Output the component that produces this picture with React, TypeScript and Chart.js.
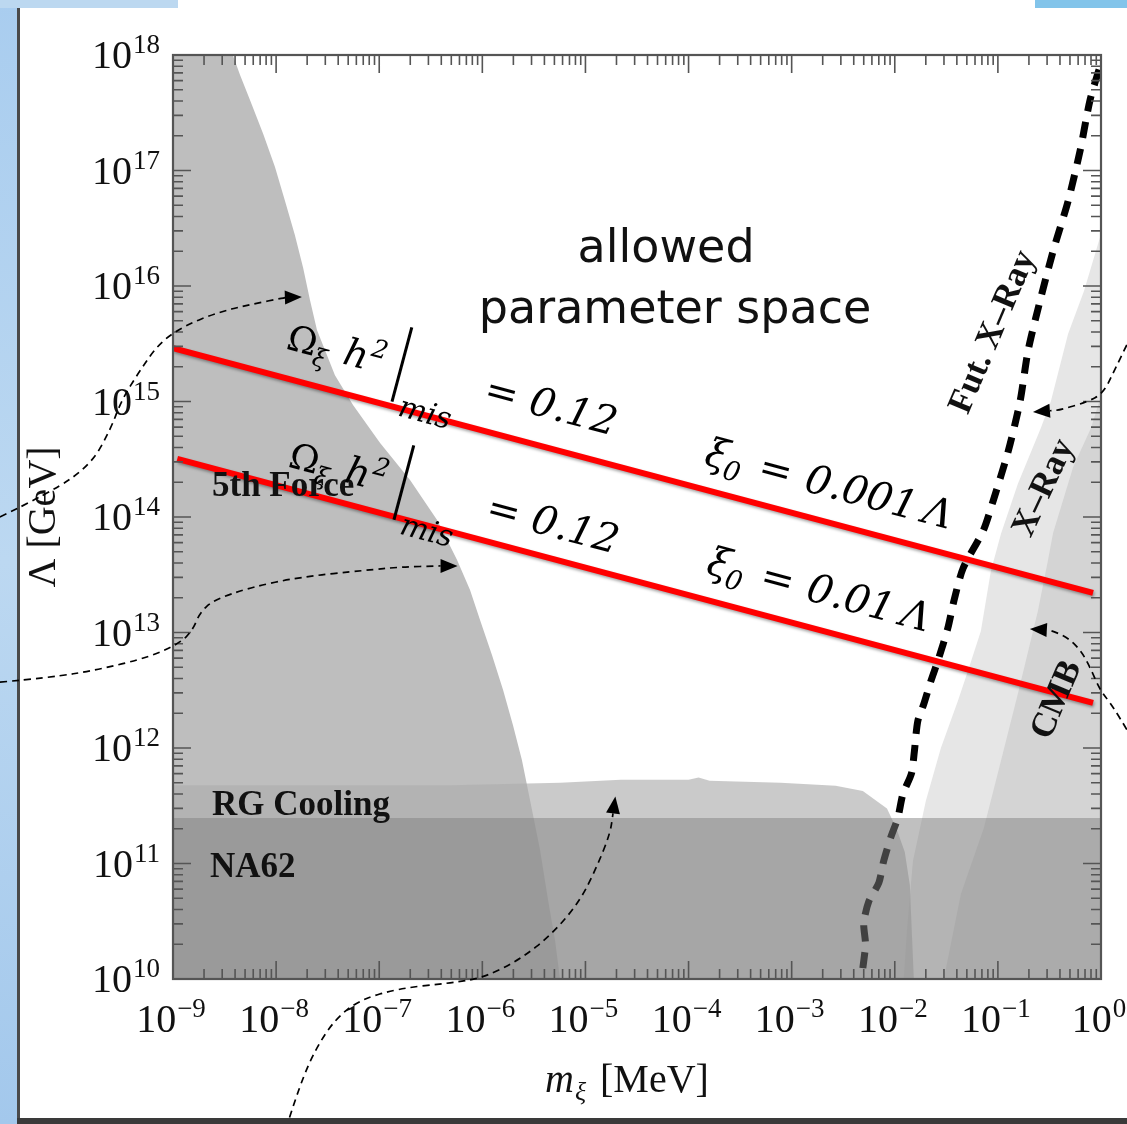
import React, { useEffect, useRef } from "react";
import { Chart, registerables } from "chart.js";

Chart.register(...registerables);

// ---------------- axes ----------------
const massRange: [number, number] = [1e-9, 1]; // m_xi [MeV]
const lambdaRange: [number, number] = [1e10, 1e18]; // Lambda [GeV]
const massTickExponents = [-9, -8, -7, -6, -5, -4, -3, -2, -1, 0];
const lambdaTickExponents = [10, 11, 12, 13, 14, 15, 16, 17, 18];
const minorSteps = [2, 3, 4, 5, 6, 7, 8, 9];

// ---------------- excluded regions: boundary points [m_xi (MeV), Lambda (GeV)] ----------------
const fifthForceEdge: [number, number][] = [
  [3.8e-9, 1e18], [4.47e-9, 6.7e17], [5.58e-9, 4.07e17], [7.5e-9, 2.07e17], [9.75e-9, 1.07e17],
  [1.22e-8, 5.45e16], [1.52e-8, 2.77e16], [1.83e-8, 1.43e16], [2.13e-8, 7.57e15], [2.49e-8, 4.16e15],
  [3.72e-8, 1.69e15], [5.57e-8, 9.33e14], [1.02e-7, 4.38e14], [1.99e-7, 2.09e14], [3.64e-7, 9.42e13],
  [5.69e-7, 4.25e13], [7.6e-7, 2.33e13], [9.5e-7, 1.28e13], [1.24e-6, 6.38e12], [1.59e-6, 3.18e12],
  [1.98e-6, 1.58e12], [2.42e-6, 7.87e11], [2.9e-6, 3.55e11], [3.63e-6, 1.31e11], [4.34e-6, 4.83e10],
  [5.07e-6, 2.18e10], [5.67e-6, 1e10],
];
const rgCoolingEdge: [number, number][] = [
  [1e-9, 4.75e11], [4.9e-7, 4.75e11], [5.7e-6, 5.0e11], [2.2e-5, 5.3e11], [1.0e-4, 5.3e11],
  [1.25e-4, 5.55e11], [1.6e-4, 5.2e11], [7.8e-4, 5.0e11], [2.67e-3, 4.7e11], [4.9e-3, 4.25e11],
  [8.4e-3, 3.0e11], [1.04e-2, 2.0e11], [1.25e-2, 1.26e11], [1.4e-2, 6.5e10], [1.53e-2, 1e10],
];
const na62Limit = 2.48e11;
const xRayEdge: [number, number][] = [
  [1, 2.82e16], [0.684, 9.06e15], [0.479, 3.84e15], [0.327, 1.01e15], [0.261, 5.9e14],
  [0.156, 1.93e14], [0.107, 7.13e13], [0.0855, 3.4e13], [0.0684, 1.03e13], [0.0512, 4.65e12],
  [0.0409, 2.55e12], [0.028, 1e12], [0.02, 3.48e11], [0.015, 1.05e11], [0.0131, 2.6e10], [0.0122, 1e10],
];
const cmbEdge: [number, number][] = [
  [1, 1.12e15], [0.8, 5.9e14], [0.537, 2.71e14], [0.343, 7.26e13], [0.305, 4.16e13], [0.244, 1.53e13],
  [0.156, 2.94e12], [0.107, 7.7e11], [0.0731, 2.03e11], [0.0438, 5.45e10], [0.0299, 1e10],
];
const futureXRay: [number, number][] = [
  [4.9e-3, 1.24e10], [5.2e-3, 2.0e10], [5.0e-3, 3.05e10], [5.6e-3, 4.7e10], [7.0e-3, 6.8e10],
  [7.8e-3, 1.05e11], [9.1e-3, 1.66e11], [1.07e-2, 2.48e11], [1.2e-2, 4.0e11], [1.45e-2, 6.0e11],
  [1.55e-2, 9.4e11], [1.67e-2, 1.7e12], [1.91e-2, 2.4e12], [2.24e-2, 3.8e12], [2.67e-2, 6.0e12],
  [3.27e-2, 1.09e13], [3.74e-2, 1.87e13], [4.6e-2, 3.6e13], [7.2e-2, 7.6e13], [9.0e-2, 1.38e14],
  [0.126, 3.72e14], [0.164, 1.0e15], [0.196, 2.74e15], [0.256, 7.4e15], [0.343, 2.0e16],
  [0.48, 5.45e16], [0.627, 1.48e17], [0.783, 4.07e17], [1.0, 8.5e17],
];
// misalignment relic-abundance lines
const relicXi0001: [number, number][] = [[1e-9, 2.9e15], [0.837, 2.2e13]];
const relicXi001: [number, number][] = [[1.1e-9, 3.18e14], [0.837, 2.46e12]];

// annotation arrows, given in log10 data coordinates [log10 m, log10 Lambda]
const arrowFifthForce: [number, number][] = [
  [-10.68, 14.0], [-10.19, 14.21], [-9.8, 14.45], [-9.61, 14.75], [-9.5, 15.01], [-9.32, 15.27],
  [-9.13, 15.51], [-8.88, 15.66], [-8.57, 15.77], [-8.25, 15.84], [-7.91, 15.9], [-7.75, 15.905],
];
const arrowFifthForce2: [number, number][] = [
  [-10.68, 12.57], [-10.19, 12.61], [-9.71, 12.68], [-9.22, 12.79], [-8.93, 12.91], [-8.81, 13.02],
  [-8.74, 13.17], [-8.61, 13.28], [-8.25, 13.39], [-7.77, 13.48], [-7.12, 13.54], [-6.8, 13.567],
  [-6.41, 13.576], [-6.24, 13.576],
];
const arrowRG: [number, number][] = [
  [-7.87, 8.8], [-7.77, 9.08], [-7.62, 9.39], [-7.43, 9.65], [-7.19, 9.82], [-6.8, 9.92],
  [-6.31, 9.965], [-5.99, 10.01], [-5.63, 10.17], [-5.31, 10.4], [-5.05, 10.68], [-4.89, 10.97],
  [-4.76, 11.26], [-4.71, 11.58],
];
const arrowXRay: [number, number][] = [
  [0.25, 15.49], [0.12, 15.25], [0.02, 15.07], [-0.135, 14.996], [-0.4, 14.926], [-0.66, 14.909],
];
const arrowCMB: [number, number][] = [
  [0.25, 12.16], [0.11, 12.37], [-0.01, 12.5], [-0.106, 12.7], [-0.2, 12.85], [-0.33, 12.96],
  [-0.49, 13.02], [-0.69, 13.03],
];

const W = 1127;
const H = 1124;
const SERIF = '"Liberation Serif", "Times New Roman", serif';
const MATH = '"DejaVu Serif", serif';

const toXY = (arr: [number, number][]) => arr.map(([x, y]) => ({ x, y }));

function region(pts: [number, number][], color: string) {
  return {
    data: toXY(pts),
    showLine: true,
    fill: "shape",
    backgroundColor: color,
    borderColor: "rgba(0,0,0,0)",
    borderWidth: 0,
    pointRadius: 0,
    tension: 0,
  };
}

function drawArrow(ctx: CanvasRenderingContext2D, pts: { x: number; y: number }[]) {
  const n = pts.length;
  const tip = pts[n - 1];
  const prev = pts[n - 2];
  const ang = Math.atan2(tip.y - prev.y, tip.x - prev.x);
  const L = 17, HW = 7;
  const base = { x: tip.x - L * Math.cos(ang), y: tip.y - L * Math.sin(ang) };
  const p = pts.slice(0, n - 1).concat([base]);
  ctx.save();
  ctx.strokeStyle = "#000";
  ctx.lineWidth = 1.7;
  ctx.setLineDash([7, 5]);
  ctx.beginPath();
  ctx.moveTo(p[0].x, p[0].y);
  for (let i = 1; i < p.length - 1; i++) {
    const mx = (p[i].x + p[i + 1].x) / 2;
    const my = (p[i].y + p[i + 1].y) / 2;
    ctx.quadraticCurveTo(p[i].x, p[i].y, mx, my);
  }
  ctx.lineTo(p[p.length - 1].x, p[p.length - 1].y);
  ctx.stroke();
  ctx.setLineDash([]);
  ctx.fillStyle = "#000";
  ctx.beginPath();
  ctx.moveTo(tip.x, tip.y);
  ctx.lineTo(base.x + HW * Math.sin(ang), base.y - HW * Math.cos(ang));
  ctx.lineTo(base.x - HW * Math.sin(ang), base.y + HW * Math.cos(ang));
  ctx.closePath();
  ctx.fill();
  ctx.restore();
}

const slidePlugin = {
  id: "slide",
  beforeDraw(chart: any) {
    const ctx: CanvasRenderingContext2D = chart.ctx;
    ctx.save();
    ctx.fillStyle = "#fff";
    ctx.fillRect(0, 0, W, H);
    const g = ctx.createLinearGradient(0, 0, 0, H);
    g.addColorStop(0, "#a9cdef");
    g.addColorStop(0.5, "#bcd8f1");
    g.addColorStop(1, "#a3c8ec");
    ctx.fillStyle = g;
    ctx.fillRect(0, 0, 17, H);
    ctx.fillStyle = "#bcd8f0";
    ctx.fillRect(0, 0, 178, 8);
    ctx.fillStyle = "#82c4ea";
    ctx.fillRect(1035, 0, W - 1035, 8);
    ctx.fillStyle = "#4a4a4a";
    ctx.fillRect(17, 8, 3, H - 8);
    ctx.fillStyle = "#3a3a3a";
    ctx.fillRect(17, 1118, W - 17, 6);
    ctx.restore();
  },
  beforeDatasetDraw(chart: any, args: any) {
    const ds = chart.data.datasets[args.index];
    if (ds && ds.shadow) {
      const ctx: CanvasRenderingContext2D = chart.ctx;
      ctx.save();
      ctx.shadowColor = "rgba(0,0,0,0.35)";
      ctx.shadowBlur = 3;
      ctx.shadowOffsetX = 1;
      ctx.shadowOffsetY = 2;
    }
  },
  afterDatasetDraw(chart: any, args: any) {
    const ds = chart.data.datasets[args.index];
    if (ds && ds.shadow) chart.ctx.restore();
  },
};

const overlayPlugin = {
  id: "overlay",
  afterDraw(chart: any) {
    const ctx: CanvasRenderingContext2D = chart.ctx;
    const a = chart.chartArea;
    const xs = chart.scales.x;
    const ys = chart.scales.y;
    const P = (m: number, l: number) => ({ x: xs.getPixelForValue(m), y: ys.getPixelForValue(l) });
    const PL = (lm: number, ll: number) => P(Math.pow(10, lm), Math.pow(10, ll));

    ctx.save();
    // ---- ticks (inward, all four sides) ----
    ctx.strokeStyle = "#555";
    ctx.lineWidth = 1.6;
    ctx.beginPath();
    for (const e of massTickExponents) {
      const steps = e === massTickExponents[massTickExponents.length - 1] ? [1] : [1, ...minorSteps];
      for (const k of steps) {
        const X = xs.getPixelForValue(k * Math.pow(10, e));
        const len = k === 1 ? 18 : 10;
        ctx.moveTo(X, a.bottom); ctx.lineTo(X, a.bottom - len);
        ctx.moveTo(X, a.top); ctx.lineTo(X, a.top + len);
      }
    }
    for (const e of lambdaTickExponents) {
      const steps = e === lambdaTickExponents[lambdaTickExponents.length - 1] ? [1] : [1, ...minorSteps];
      for (const k of steps) {
        const Y = ys.getPixelForValue(k * Math.pow(10, e));
        const len = k === 1 ? 18 : 10;
        ctx.moveTo(a.left, Y); ctx.lineTo(a.left + len, Y);
        ctx.moveTo(a.right, Y); ctx.lineTo(a.right - len, Y);
      }
    }
    ctx.stroke();
    ctx.lineWidth = 2.2;
    ctx.strokeStyle = "#555";
    ctx.strokeRect(a.left, a.top, a.right - a.left, a.bottom - a.top);

    // ---- tick labels ----
    ctx.fillStyle = "#111";
    ctx.textBaseline = "alphabetic";
    const baseFont = `40px ${SERIF}`;
    const supFont = `27px ${SERIF}`;
    for (const e of lambdaTickExponents) {
      const Y = ys.getPixelForValue(Math.pow(10, e));
      ctx.textAlign = "right";
      ctx.font = supFont;
      const s = String(e);
      const sw = ctx.measureText(s).width;
      ctx.fillText(s, a.left - 13, Y - 2);
      ctx.font = baseFont;
      ctx.fillText("10", a.left - 14 - sw, Y + 13);
    }
    for (const e of massTickExponents) {
      const X = xs.getPixelForValue(Math.pow(10, e));
      const s = e < 0 ? "\u2212" + String(-e) : String(e);
      ctx.textAlign = "left";
      ctx.font = baseFont;
      const bw = ctx.measureText("10").width;
      ctx.font = supFont;
      const sw = ctx.measureText(s).width;
      const start = X - (bw + 1 + sw) / 2 - 2;
      ctx.font = baseFont;
      ctx.fillText("10", start, a.bottom + 53);
      ctx.font = supFont;
      ctx.fillText(s, start + bw + 1, a.bottom + 38);
    }

    // ---- axis titles ----
    ctx.save();
    ctx.translate(a.left - 118, (a.top + a.bottom) / 2);
    ctx.rotate(-Math.PI / 2);
    ctx.textAlign = "center";
    ctx.font = `40px ${SERIF}`;
    ctx.fillText("\u039B [GeV]", 0, 0);
    ctx.restore();
    const midX = (a.left + a.right) / 2;
    ctx.textAlign = "left";
    ctx.font = `italic 40px ${SERIF}`;
    ctx.fillText("m", midX - 92, a.bottom + 113);
    ctx.font = `italic 26px ${SERIF}`;
    ctx.fillText("\u03BE", midX - 62, a.bottom + 121);
    ctx.font = `40px ${SERIF}`;
    ctx.fillText("[MeV]", midX - 37, a.bottom + 113);

    // ---- region labels ----
    ctx.font = `bold 35px ${SERIF}`;
    ctx.textAlign = "left";
    let q = PL(-8.622, 14.182);
    ctx.fillText("5th Force", q.x, q.y);
    q = PL(-8.622, 11.42);
    ctx.fillText("RG Cooling", q.x, q.y);
    q = PL(-8.641, 10.883);
    ctx.fillText("NA62", q.x, q.y);

    const rotLabel = (t: string, lm: number, ll: number, deg: number) => {
      const c = PL(lm, ll);
      ctx.save();
      ctx.translate(c.x, c.y);
      ctx.rotate((deg * Math.PI) / 180);
      ctx.textAlign = "center";
      ctx.textBaseline = "middle";
      ctx.font = `bold 35px ${SERIF}`;
      ctx.fillText(t, 0, 0);
      ctx.restore();
    };
    rotLabel("Fut. X\u2013Ray", -1.045, 15.6, -67);
    rotLabel("X\u2013Ray", -0.552, 14.251, -65);
    rotLabel("CMB", -0.426, 12.416, -67);

    // ---- "allowed parameter space" ----
    ctx.textAlign = "center";
    ctx.textBaseline = "alphabetic";
    ctx.font = `46px "DejaVu Sans", sans-serif`;
    q = PL(-4.218, 16.208);
    ctx.fillText("allowed", q.x, q.y);
    q = PL(-4.131, 15.68);
    ctx.fillText("parameter space", q.x, q.y);

    // ---- formula labels along the red lines ----
    const r0 = P(relicXi0001[0][0], relicXi0001[0][1]);
    const r1 = P(relicXi0001[1][0], relicXi0001[1][1]);
    const ang = Math.atan2(r1.y - r0.y, r1.x - r0.x);

    const relicLabel = (lm: number, ll: number) => {
      const o = PL(lm, ll);
      ctx.save();
      ctx.translate(o.x, o.y);
      ctx.rotate(ang);
      ctx.textAlign = "left";
      ctx.textBaseline = "alphabetic";
      ctx.fillStyle = "#000";
      ctx.font = `36px ${MATH}`;
      ctx.fillText("\u03A9", -2, 0);
      ctx.font = `italic 25px ${MATH}`;
      ctx.fillText("\u03BE", 27, 9);
      ctx.font = `italic 38px ${MATH}`;
      ctx.fillText("h", 56, 0);
      ctx.font = `italic 25px ${MATH}`;
      ctx.fillText("2", 82, -15);
      ctx.lineWidth = 3;
      ctx.strokeStyle = "#000";
      ctx.beginPath();
      ctx.moveTo(115, -53);
      ctx.lineTo(115, 24);
      ctx.stroke();
      ctx.font = `italic 30px ${MATH}`;
      ctx.fillText("mis", 123, 36);
      ctx.font = `italic 40px ${MATH}`;
      ctx.fillText("= 0.12", 202, 0);
      ctx.restore();
    };
    relicLabel(-7.894, 15.455);
    relicLabel(-7.875, 14.433);

    const xiLabel = (lm: number, ll: number, val: string, lamU: number) => {
      const o = PL(lm, ll);
      ctx.save();
      ctx.translate(o.x, o.y);
      ctx.rotate(ang);
      ctx.textAlign = "left";
      ctx.textBaseline = "alphabetic";
      ctx.fillStyle = "#000";
      ctx.font = `italic 40px ${MATH}`;
      ctx.fillText("\u03BE", 0, 0);
      ctx.font = `italic 27px ${MATH}`;
      ctx.fillText("0", 21, 9);
      ctx.font = `italic 40px ${MATH}`;
      ctx.fillText("=", 55, 0);
      ctx.fillText(val, 103, 0);
      ctx.fillText("\u039B", lamU, 0);
      ctx.restore();
    };
    xiLabel(-3.859, 14.459, "0.001", 225);
    xiLabel(-3.84, 13.515, "0.01", 200);

    // ---- annotation arrows ----
    for (const arr of [arrowFifthForce, arrowFifthForce2, arrowRG, arrowXRay, arrowCMB]) {
      drawArrow(ctx, arr.map(([lm, ll]) => PL(lm, ll)));
    }
    ctx.restore();
  },
};

export default function App() {
  const ref = useRef<HTMLCanvasElement | null>(null);
  useEffect(() => {
    if (!ref.current) return;
    const [mMin, mMax] = massRange;
    const [lMin, lMax] = lambdaRange;
    const datasets: any[] = [
      region([...xRayEdge, [mMax, lMin]], "#e6e6e6"),
      region([...cmbEdge, [mMax, lMin]], "#d4d4d4"),
      region([[mMin, lMax], ...fifthForceEdge, [mMin, lMin]], "#bebebe"),
      region([...rgCoolingEdge, [mMin, lMin]], "rgba(174,174,174,0.652)"),
      {
        data: toXY(futureXRay),
        showLine: true,
        fill: false,
        borderColor: "#000",
        borderWidth: 7,
        borderDash: [16, 11],
        pointRadius: 0,
        tension: 0.25,
      },
      region([[mMin, lMin], [mMin, na62Limit], [mMax, na62Limit], [mMax, lMin]], "rgba(129,129,129,0.5)"),
      { data: toXY(relicXi0001), showLine: true, fill: false, borderColor: "#ff0000", borderWidth: 6, pointRadius: 0, shadow: true },
      { data: toXY(relicXi001), showLine: true, fill: false, borderColor: "#ff0000", borderWidth: 6, pointRadius: 0, shadow: true },
    ];
    datasets.forEach((d, i) => (d.order = datasets.length - i));

    const chart = new Chart(ref.current, {
      type: "scatter",
      data: { datasets },
      options: {
        responsive: false,
        animation: false,
        devicePixelRatio: 1,
        events: [],
        layout: { padding: { left: 173, top: 55, right: 26, bottom: 145 } },
        plugins: { legend: { display: false }, tooltip: { enabled: false } },
        scales: {
          x: { type: "logarithmic", min: mMin, max: mMax, display: false },
          y: { type: "logarithmic", min: lMin, max: lMax, display: false },
        },
      },
      plugins: [slidePlugin, overlayPlugin],
    } as any);

    const fonts = [
      `40px "Liberation Serif"`,
      `bold 34px "Liberation Serif"`,
      `italic 40px "Liberation Serif"`,
      `46px "DejaVu Sans"`,
      `italic 40px "DejaVu Serif"`,
      `34px "DejaVu Serif"`,
    ];
    Promise.all(fonts.map((f) => (document as any).fonts.load(f)))
      .then(() => chart.draw())
      .catch(() => {});
    return () => chart.destroy();
  }, []);

  return (
    <div style={{ position: "fixed", left: 0, top: 0, width: W, height: H, background: "#fff" }}>
      <canvas ref={ref} width={W} height={H} style={{ width: W, height: H, display: "block" }} />
    </div>
  );
}
